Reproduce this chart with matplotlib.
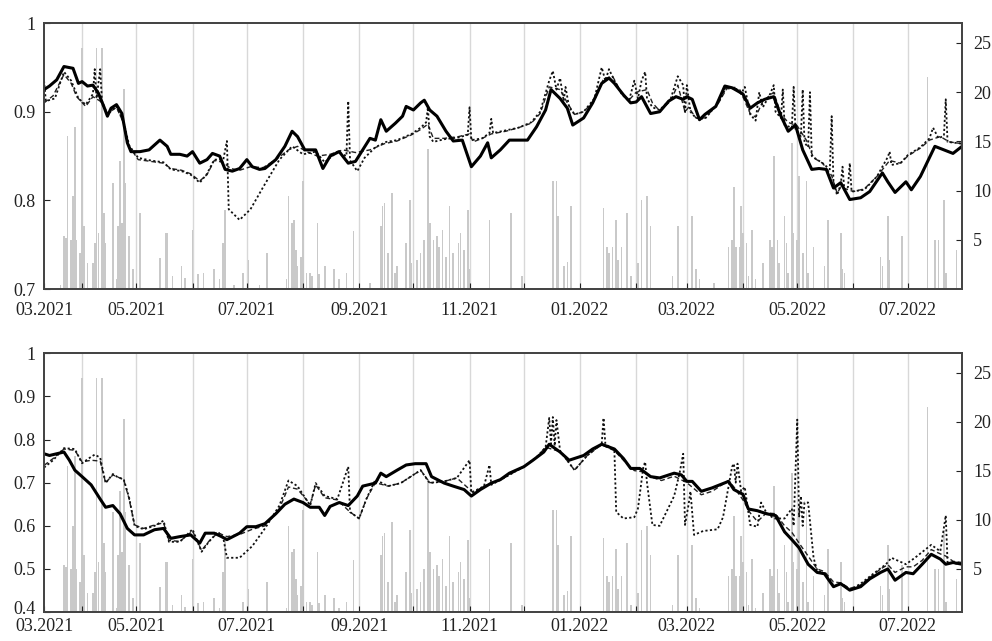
import matplotlib
matplotlib.use("Agg")
import matplotlib.pyplot as plt
import matplotlib.transforms as mtransforms
import pandas as pd

plt.rcParams['font.family'] = ['Liberation Serif', 'DejaVu Serif']

# --- top panel lines ---
top_solid_dates = ["2021-03-11", "2021-03-14", "2021-03-18", "2021-03-22", "2021-03-27", "2021-03-30", "2021-04-01",
    "2021-04-04", "2021-04-07", "2021-04-10", "2021-04-13", "2021-04-15", "2021-04-17", "2021-04-20", "2021-04-23",
    "2021-04-26", "2021-04-28", "2021-05-03", "2021-05-08", "2021-05-14", "2021-05-18", "2021-05-20", "2021-05-25",
    "2021-05-29", "2021-06-01", "2021-06-05", "2021-06-09", "2021-06-12", "2021-06-16", "2021-06-19", "2021-06-23",
    "2021-06-27", "2021-07-01", "2021-07-04", "2021-07-08", "2021-07-11", "2021-07-17", "2021-07-22", "2021-07-26",
    "2021-07-29", "2021-08-02", "2021-08-08", "2021-08-12", "2021-08-16", "2021-08-21", "2021-08-26", "2021-08-30",
    "2021-09-03", "2021-09-07", "2021-09-10", "2021-09-13", "2021-09-16", "2021-09-21", "2021-09-25", "2021-09-27",
    "2021-10-01", "2021-10-05", "2021-10-07", "2021-10-10", "2021-10-14", "2021-10-19", "2021-10-23", "2021-10-28",
    "2021-11-02", "2021-11-07", "2021-11-11", "2021-11-13", "2021-11-18", "2021-11-23", "2021-11-29", "2021-12-03",
    "2021-12-08", "2021-12-13", "2021-12-16", "2021-12-21", "2021-12-25", "2021-12-28", "2022-01-03", "2022-01-08",
    "2022-01-13", "2022-01-17", "2022-01-20", "2022-01-25", "2022-01-29", "2022-02-01", "2022-02-04", "2022-02-09",
    "2022-02-14", "2022-02-19", "2022-02-23", "2022-02-27", "2022-03-01", "2022-03-04", "2022-03-08", "2022-03-11",
    "2022-03-17", "2022-03-22", "2022-03-26", "2022-04-01", "2022-04-05", "2022-04-09", "2022-04-13", "2022-04-18",
    "2022-04-22", "2022-04-26", "2022-04-30", "2022-05-04", "2022-05-09", "2022-05-13", "2022-05-17", "2022-05-21",
    "2022-05-25", "2022-05-30", "2022-06-05", "2022-06-10", "2022-06-17", "2022-06-20", "2022-06-24", "2022-06-30",
    "2022-07-03", "2022-07-08", "2022-07-16", "2022-07-21", "2022-07-26", "2022-07-31"]
top_solid_vals = [0.925, 0.929, 0.936, 0.951, 0.949, 0.932, 0.934,
    0.929, 0.930, 0.921, 0.906, 0.895, 0.904, 0.908, 0.898,
    0.865, 0.855, 0.855, 0.857, 0.868, 0.861, 0.852, 0.852,
    0.850, 0.855, 0.842, 0.846, 0.853, 0.850, 0.835, 0.833,
    0.836, 0.846, 0.838, 0.835, 0.836, 0.846, 0.861, 0.878,
    0.872, 0.857, 0.857, 0.836, 0.850, 0.855, 0.842, 0.844,
    0.857, 0.870, 0.868, 0.891, 0.878, 0.887, 0.895, 0.906,
    0.902, 0.910, 0.913, 0.902, 0.895, 0.878, 0.867, 0.868,
    0.838, 0.850, 0.865, 0.848, 0.857, 0.868, 0.868, 0.868,
    0.883, 0.902, 0.925, 0.915, 0.904, 0.885, 0.893, 0.910,
    0.932, 0.938, 0.932, 0.919, 0.910, 0.911, 0.917, 0.898,
    0.900, 0.912, 0.917, 0.914, 0.917, 0.914, 0.891, 0.897,
    0.906, 0.929, 0.927, 0.920, 0.904, 0.910, 0.914, 0.917,
    0.895, 0.878, 0.885, 0.857, 0.835, 0.836, 0.835, 0.814,
    0.820, 0.801, 0.803, 0.810, 0.831, 0.821, 0.809, 0.821,
    0.812, 0.827, 0.861, 0.857, 0.853, 0.861]

top_dash_dates = ["2021-03-11", "2021-03-16", "2021-03-22", "2021-03-26", "2021-03-29", "2021-04-03", "2021-04-07",
    "2021-04-11", "2021-04-15", "2021-04-20", "2021-04-24", "2021-04-27", "2021-05-02", "2021-05-09", "2021-05-16",
    "2021-05-20", "2021-05-26", "2021-05-31", "2021-06-05", "2021-06-09", "2021-06-13", "2021-06-18", "2021-06-22",
    "2021-06-27", "2021-07-03", "2021-07-10", "2021-07-17", "2021-07-24", "2021-07-29", "2021-08-03", "2021-08-09",
    "2021-08-16", "2021-08-23", "2021-08-30", "2021-09-07", "2021-09-15", "2021-09-22", "2021-09-30", "2021-10-05",
    "2021-10-09", "2021-10-12", "2021-10-18", "2021-10-26", "2021-11-01", "2021-11-03", "2021-11-08", "2021-11-13",
    "2021-11-21", "2021-11-28", "2021-12-05", "2021-12-10", "2021-12-15", "2021-12-21", "2021-12-25", "2021-12-29",
    "2022-01-03", "2022-01-09", "2022-01-14", "2022-01-19", "2022-01-24", "2022-01-28", "2022-02-01", "2022-02-07",
    "2022-02-10", "2022-02-14", "2022-02-20", "2022-02-24", "2022-02-28", "2022-03-02", "2022-03-06", "2022-03-11",
    "2022-03-18", "2022-03-23", "2022-03-30", "2022-04-05", "2022-04-08", "2022-04-12", "2022-04-18", "2022-04-22",
    "2022-04-26", "2022-05-01", "2022-05-06", "2022-05-10", "2022-05-15", "2022-05-20", "2022-05-23", "2022-05-25",
    "2022-06-01", "2022-06-07", "2022-06-14", "2022-06-21", "2022-06-27", "2022-07-01", "2022-07-08", "2022-07-13",
    "2022-07-19", "2022-07-24", "2022-07-31"]
top_dash_vals = [0.910, 0.918, 0.942, 0.932, 0.917, 0.906, 0.917,
    0.912, 0.898, 0.905, 0.887, 0.861, 0.846, 0.844, 0.842,
    0.836, 0.834, 0.830, 0.822, 0.829, 0.845, 0.843, 0.836,
    0.834, 0.838, 0.837, 0.846, 0.857, 0.861, 0.855, 0.850,
    0.852, 0.857, 0.854, 0.857, 0.864, 0.867, 0.874, 0.880,
    0.886, 0.870, 0.870, 0.872, 0.875, 0.866, 0.870, 0.875,
    0.878, 0.882, 0.887, 0.898, 0.928, 0.925, 0.910, 0.897,
    0.900, 0.913, 0.937, 0.940, 0.921, 0.913, 0.922, 0.925,
    0.910, 0.901, 0.912, 0.930, 0.900, 0.905, 0.893, 0.893,
    0.908, 0.926, 0.926, 0.898, 0.894, 0.912, 0.922, 0.897,
    0.888, 0.884, 0.868, 0.848, 0.842, 0.828, 0.808, 0.815,
    0.810, 0.813, 0.827, 0.845, 0.842, 0.850, 0.859, 0.868,
    0.872, 0.866, 0.864]

top_dot_dates = ["2021-03-11", "2021-03-12", "2021-03-17", "2021-03-22", "2021-03-26", "2021-03-30", "2021-04-03",
    "2021-04-07", "2021-04-08", "2021-04-09", "2021-04-11", "2021-04-12", "2021-04-15", "2021-04-20", "2021-04-24",
    "2021-04-27", "2021-05-02", "2021-05-09", "2021-05-16", "2021-05-20", "2021-05-26", "2021-05-31", "2021-06-05",
    "2021-06-09", "2021-06-13", "2021-06-18", "2021-06-20", "2021-06-21", "2021-06-27", "2021-07-03", "2021-07-10",
    "2021-07-19", "2021-07-26", "2021-08-01", "2021-08-08", "2021-08-13", "2021-08-20", "2021-08-25", "2021-08-26",
    "2021-08-27", "2021-08-31", "2021-09-04", "2021-09-10", "2021-09-16", "2021-09-22", "2021-09-30", "2021-10-05",
    "2021-10-08", "2021-10-09", "2021-10-10", "2021-10-12", "2021-10-18", "2021-10-26", "2021-10-31", "2021-11-01",
    "2021-11-02", "2021-11-08", "2021-11-12", "2021-11-13", "2021-11-14", "2021-11-21", "2021-11-28", "2021-12-05",
    "2021-12-10", "2021-12-15", "2021-12-17", "2021-12-19", "2021-12-21", "2021-12-23", "2021-12-24", "2021-12-26",
    "2021-12-29", "2022-01-03", "2022-01-09", "2022-01-13", "2022-01-15", "2022-01-17", "2022-01-20", "2022-01-24",
    "2022-01-28", "2022-01-31", "2022-02-02", "2022-02-04", "2022-02-06", "2022-02-07", "2022-02-10", "2022-02-14",
    "2022-02-20", "2022-02-24", "2022-02-27", "2022-02-28", "2022-03-01", "2022-03-03", "2022-03-06", "2022-03-11",
    "2022-03-18", "2022-03-23", "2022-03-28", "2022-03-31", "2022-04-02", "2022-04-05", "2022-04-08", "2022-04-10",
    "2022-04-12", "2022-04-16", "2022-04-18", "2022-04-19", "2022-04-22", "2022-04-23", "2022-04-24", "2022-04-28",
    "2022-04-29", "2022-04-30", "2022-05-03", "2022-05-04", "2022-05-05", "2022-05-07", "2022-05-08", "2022-05-09",
    "2022-05-15", "2022-05-19", "2022-05-20", "2022-05-21", "2022-05-23", "2022-05-25", "2022-05-26", "2022-05-27",
    "2022-05-29", "2022-05-30", "2022-05-31", "2022-06-07", "2022-06-14", "2022-06-20", "2022-06-21", "2022-06-22",
    "2022-06-27", "2022-07-01", "2022-07-08", "2022-07-13", "2022-07-15", "2022-07-18", "2022-07-21", "2022-07-22",
    "2022-07-23", "2022-07-31"]
top_dot_vals = [0.935, 0.912, 0.915, 0.945, 0.935, 0.915, 0.908,
    0.920, 0.948, 0.915, 0.948, 0.912, 0.897, 0.906, 0.888,
    0.862, 0.848, 0.845, 0.843, 0.835, 0.833, 0.829, 0.820,
    0.830, 0.846, 0.846, 0.867, 0.790, 0.778, 0.790, 0.815,
    0.846, 0.861, 0.852, 0.855, 0.843, 0.855, 0.850, 0.912,
    0.845, 0.833, 0.848, 0.860, 0.866, 0.868, 0.875, 0.882,
    0.888, 0.905, 0.872, 0.866, 0.869, 0.871, 0.874, 0.905,
    0.868, 0.870, 0.876, 0.892, 0.876, 0.879, 0.882, 0.888,
    0.900, 0.935, 0.946, 0.925, 0.938, 0.912, 0.928, 0.905,
    0.897, 0.900, 0.915, 0.950, 0.935, 0.948, 0.935, 0.920,
    0.912, 0.935, 0.915, 0.935, 0.945, 0.915, 0.905, 0.902,
    0.914, 0.940, 0.930, 0.898, 0.930, 0.900, 0.893, 0.892,
    0.909, 0.928, 0.927, 0.920, 0.928, 0.897, 0.890, 0.922,
    0.905, 0.920, 0.930, 0.900, 0.893, 0.925, 0.885, 0.882,
    0.928, 0.880, 0.872, 0.925, 0.865, 0.860, 0.922, 0.850,
    0.842, 0.835, 0.895, 0.820, 0.806, 0.818, 0.838, 0.812,
    0.815, 0.842, 0.810, 0.812, 0.827, 0.849, 0.855, 0.840,
    0.842, 0.851, 0.860, 0.870, 0.882, 0.870, 0.873, 0.914,
    0.866, 0.864]

# --- bottom panel lines ---
bot_solid_dates = ["2021-03-11", "2021-03-14", "2021-03-18", "2021-03-22", "2021-03-25", "2021-03-28", "2021-04-01",
    "2021-04-06", "2021-04-11", "2021-04-14", "2021-04-18", "2021-04-22", "2021-04-26", "2021-04-30", "2021-05-05",
    "2021-05-11", "2021-05-16", "2021-05-20", "2021-05-25", "2021-05-31", "2021-06-05", "2021-06-08", "2021-06-13",
    "2021-06-17", "2021-06-20", "2021-06-27", "2021-07-01", "2021-07-06", "2021-07-11", "2021-07-17", "2021-07-22",
    "2021-07-27", "2021-08-01", "2021-08-05", "2021-08-10", "2021-08-13", "2021-08-16", "2021-08-21", "2021-08-26",
    "2021-08-31", "2021-09-03", "2021-09-10", "2021-09-13", "2021-09-16", "2021-09-22", "2021-09-27", "2021-10-02",
    "2021-10-08", "2021-10-11", "2021-10-18", "2021-10-23", "2021-10-29", "2021-11-02", "2021-11-07", "2021-11-13",
    "2021-11-18", "2021-11-23", "2021-12-01", "2021-12-06", "2021-12-12", "2021-12-15", "2021-12-21", "2021-12-26",
    "2022-01-03", "2022-01-08", "2022-01-13", "2022-01-20", "2022-01-25", "2022-01-29", "2022-02-03", "2022-02-09",
    "2022-02-14", "2022-02-22", "2022-02-26", "2022-03-01", "2022-03-04", "2022-03-09", "2022-03-15", "2022-03-24",
    "2022-03-27", "2022-04-01", "2022-04-04", "2022-04-09", "2022-04-14", "2022-04-19", "2022-04-24", "2022-04-28",
    "2022-05-02", "2022-05-07", "2022-05-12", "2022-05-16", "2022-05-21", "2022-05-25", "2022-05-30", "2022-06-05",
    "2022-06-10", "2022-06-16", "2022-06-20", "2022-06-24", "2022-06-30", "2022-07-04", "2022-07-09", "2022-07-14",
    "2022-07-19", "2022-07-22", "2022-07-26", "2022-07-31"]
bot_solid_vals = [0.767, 0.763, 0.767, 0.771, 0.752, 0.729, 0.714,
    0.695, 0.662, 0.643, 0.647, 0.628, 0.594, 0.579, 0.579,
    0.591, 0.594, 0.571, 0.575, 0.579, 0.560, 0.583, 0.583,
    0.575, 0.568, 0.583, 0.598, 0.598, 0.605, 0.628, 0.650,
    0.662, 0.654, 0.643, 0.643, 0.624, 0.645, 0.654, 0.647,
    0.669, 0.692, 0.699, 0.722, 0.714, 0.729, 0.741, 0.744,
    0.744, 0.714, 0.699, 0.692, 0.684, 0.669, 0.684, 0.699,
    0.707, 0.722, 0.737, 0.752, 0.771, 0.789, 0.771, 0.752,
    0.763, 0.778, 0.789, 0.778, 0.756, 0.733, 0.733, 0.714,
    0.711, 0.722, 0.718, 0.703, 0.703, 0.680, 0.688, 0.703,
    0.684, 0.673, 0.639, 0.635, 0.628, 0.624, 0.586, 0.568,
    0.549, 0.511, 0.492, 0.489, 0.459, 0.466, 0.451, 0.459,
    0.477, 0.492, 0.500, 0.474, 0.492, 0.489, 0.511, 0.534,
    0.523, 0.511, 0.515, 0.511]

bot_dash_dates = ["2021-03-11", "2021-03-16", "2021-03-22", "2021-03-28", "2021-04-01", "2021-04-06", "2021-04-11",
    "2021-04-14", "2021-04-18", "2021-04-24", "2021-04-27", "2021-04-30", "2021-05-05", "2021-05-11", "2021-05-16",
    "2021-05-19", "2021-05-25", "2021-06-01", "2021-06-06", "2021-06-10", "2021-06-15", "2021-06-20", "2021-06-27",
    "2021-07-04", "2021-07-11", "2021-07-19", "2021-07-24", "2021-07-29", "2021-08-05", "2021-08-08", "2021-08-13",
    "2021-08-20", "2021-08-27", "2021-09-01", "2021-09-05", "2021-09-10", "2021-09-17", "2021-09-24", "2021-10-05",
    "2021-10-10", "2021-10-18", "2021-10-25", "2021-11-03", "2021-11-09", "2021-11-20", "2021-12-01", "2021-12-08",
    "2021-12-13", "2021-12-21", "2021-12-29", "2022-01-05", "2022-01-13", "2022-01-20", "2022-01-25", "2022-01-31",
    "2022-02-05", "2022-02-10", "2022-02-15", "2022-02-22", "2022-03-01", "2022-03-09", "2022-03-15", "2022-03-24",
    "2022-03-27", "2022-04-01", "2022-04-05", "2022-04-09", "2022-04-14", "2022-04-19", "2022-04-24", "2022-04-28",
    "2022-05-02", "2022-05-07", "2022-05-12", "2022-05-16", "2022-05-21", "2022-05-25", "2022-05-30", "2022-06-05",
    "2022-06-10", "2022-06-16", "2022-06-20", "2022-06-24", "2022-06-30", "2022-07-04", "2022-07-09", "2022-07-14",
    "2022-07-19", "2022-07-22", "2022-07-26", "2022-07-31"]
bot_dash_vals = [0.740, 0.756, 0.778, 0.775, 0.748, 0.752, 0.750,
    0.700, 0.718, 0.707, 0.662, 0.602, 0.594, 0.602, 0.607,
    0.566, 0.564, 0.588, 0.543, 0.564, 0.584, 0.575, 0.580,
    0.592, 0.600, 0.640, 0.690, 0.685, 0.650, 0.695, 0.665,
    0.660, 0.632, 0.617, 0.662, 0.700, 0.692, 0.699, 0.729,
    0.700, 0.703, 0.711, 0.677, 0.692, 0.711, 0.737, 0.759,
    0.782, 0.772, 0.729, 0.763, 0.788, 0.774, 0.752, 0.728,
    0.725, 0.712, 0.705, 0.715, 0.700, 0.672, 0.680, 0.705,
    0.690, 0.660, 0.630, 0.610, 0.630, 0.628, 0.600, 0.585,
    0.560, 0.530, 0.500, 0.494, 0.470, 0.468, 0.455, 0.463,
    0.480, 0.500, 0.510, 0.492, 0.505, 0.505, 0.520, 0.545,
    0.535, 0.530, 0.518, 0.515]

bot_dot_dates = ["2021-03-11", "2021-03-16", "2021-03-22", "2021-03-28", "2021-04-01", "2021-04-06", "2021-04-08",
    "2021-04-11", "2021-04-14", "2021-04-18", "2021-04-21", "2021-04-24", "2021-04-27", "2021-04-30", "2021-05-05",
    "2021-05-11", "2021-05-16", "2021-05-19", "2021-05-25", "2021-06-01", "2021-06-06", "2021-06-10", "2021-06-15",
    "2021-06-18", "2021-06-20", "2021-06-27", "2021-07-04", "2021-07-11", "2021-07-19", "2021-07-24", "2021-07-29",
    "2021-08-05", "2021-08-08", "2021-08-13", "2021-08-20", "2021-08-26", "2021-08-27", "2021-09-01", "2021-09-05",
    "2021-09-10", "2021-09-17", "2021-09-24", "2021-10-05", "2021-10-10", "2021-10-18", "2021-10-25", "2021-11-01",
    "2021-11-02", "2021-11-09", "2021-11-12", "2021-11-13", "2021-11-20", "2021-12-01", "2021-12-08", "2021-12-13",
    "2021-12-15", "2021-12-16", "2021-12-17", "2021-12-18", "2021-12-19", "2021-12-21", "2021-12-29", "2022-01-05",
    "2022-01-13", "2022-01-14", "2022-01-15", "2022-01-20", "2022-01-21", "2022-01-25", "2022-01-31", "2022-02-02",
    "2022-02-05", "2022-02-06", "2022-02-07", "2022-02-10", "2022-02-14", "2022-02-22", "2022-02-25", "2022-02-27",
    "2022-02-28", "2022-03-02", "2022-03-03", "2022-03-05", "2022-03-10", "2022-03-18", "2022-03-21", "2022-03-26",
    "2022-03-27", "2022-03-28", "2022-03-29", "2022-03-31", "2022-04-02", "2022-04-05", "2022-04-09", "2022-04-11",
    "2022-04-14", "2022-04-18", "2022-04-24", "2022-04-28", "2022-04-29", "2022-05-01", "2022-05-02", "2022-05-03",
    "2022-05-04", "2022-05-05", "2022-05-07", "2022-05-10", "2022-05-12", "2022-05-16", "2022-05-20", "2022-05-21",
    "2022-05-25", "2022-05-30", "2022-06-05", "2022-06-12", "2022-06-19", "2022-06-22", "2022-06-30", "2022-07-05",
    "2022-07-14", "2022-07-19", "2022-07-22", "2022-07-23", "2022-07-31"]
bot_dot_vals = [0.735, 0.752, 0.780, 0.778, 0.745, 0.760, 0.765,
    0.758, 0.699, 0.720, 0.712, 0.708, 0.665, 0.600, 0.592,
    0.600, 0.612, 0.563, 0.563, 0.592, 0.540, 0.563, 0.586,
    0.572, 0.526, 0.526, 0.553, 0.594, 0.647, 0.705, 0.692,
    0.647, 0.699, 0.669, 0.662, 0.737, 0.632, 0.617, 0.662,
    0.707, 0.692, 0.699, 0.729, 0.699, 0.703, 0.711, 0.752,
    0.677, 0.692, 0.741, 0.695, 0.711, 0.737, 0.759, 0.782,
    0.850, 0.790, 0.852, 0.785, 0.845, 0.774, 0.729, 0.763,
    0.790, 0.850, 0.790, 0.774, 0.632, 0.617, 0.620, 0.640,
    0.737, 0.748, 0.700, 0.602, 0.600, 0.669, 0.722, 0.767,
    0.602, 0.650, 0.680, 0.579, 0.588, 0.592, 0.620, 0.737,
    0.744, 0.700, 0.744, 0.680, 0.690, 0.602, 0.598, 0.654,
    0.630, 0.617, 0.617, 0.640, 0.600, 0.846, 0.620, 0.669,
    0.600, 0.654, 0.654, 0.526, 0.496, 0.490, 0.470, 0.459,
    0.466, 0.451, 0.466, 0.489, 0.511, 0.526, 0.511, 0.526,
    0.556, 0.541, 0.624, 0.515, 0.511]

# --- gray bars (right axis) ---
bar_dates = ["2021-03-11", "2021-03-20", "2021-03-22", "2021-03-23", "2021-03-24", "2021-03-26", "2021-03-27",
    "2021-03-28", "2021-03-29", "2021-03-31", "2021-04-01", "2021-04-02", "2021-04-04", "2021-04-07", "2021-04-08",
    "2021-04-09", "2021-04-10", "2021-04-12", "2021-04-13", "2021-04-14", "2021-04-18", "2021-04-20", "2021-04-21",
    "2021-04-22", "2021-04-23", "2021-04-24", "2021-04-25", "2021-04-27", "2021-04-29", "2021-05-03", "2021-05-14",
    "2021-05-17", "2021-05-18", "2021-05-21", "2021-05-26", "2021-05-28", "2021-06-01", "2021-06-04", "2021-06-07",
    "2021-06-13", "2021-06-16", "2021-06-18", "2021-06-19", "2021-06-24", "2021-06-29", "2021-07-02", "2021-07-08",
    "2021-07-12", "2021-07-23", "2021-07-24", "2021-07-26", "2021-07-27", "2021-07-28", "2021-07-29", "2021-07-31",
    "2021-08-01", "2021-08-03", "2021-08-05", "2021-08-06", "2021-08-09", "2021-08-10", "2021-08-13", "2021-08-18",
    "2021-08-21", "2021-08-25", "2021-08-29", "2021-09-07", "2021-09-13", "2021-09-14", "2021-09-15", "2021-09-17",
    "2021-09-19", "2021-09-21", "2021-09-22", "2021-09-27", "2021-09-29", "2021-09-30", "2021-10-03", "2021-10-05",
    "2021-10-07", "2021-10-09", "2021-10-10", "2021-10-12", "2021-10-14", "2021-10-15", "2021-10-17", "2021-10-19",
    "2021-10-21", "2021-10-23", "2021-10-26", "2021-10-27", "2021-10-29", "2021-10-31", "2021-11-01", "2021-11-12",
    "2021-11-24", "2021-11-30", "2021-12-17", "2021-12-19", "2021-12-20", "2021-12-23", "2021-12-25", "2021-12-27",
    "2022-01-14", "2022-01-16", "2022-01-17", "2022-01-19", "2022-01-21", "2022-01-22", "2022-01-24", "2022-01-27",
    "2022-01-29", "2022-02-02", "2022-02-04", "2022-02-07", "2022-02-09", "2022-02-21", "2022-02-24", "2022-03-04",
    "2022-03-06", "2022-03-08", "2022-03-16", "2022-03-24", "2022-03-26", "2022-03-27", "2022-03-28", "2022-03-30",
    "2022-03-31", "2022-04-01", "2022-04-03", "2022-04-04", "2022-04-06", "2022-04-08", "2022-04-12", "2022-04-16",
    "2022-04-17", "2022-04-18", "2022-04-20", "2022-04-21", "2022-04-24", "2022-04-25", "2022-04-26", "2022-04-28",
    "2022-04-29", "2022-05-01", "2022-05-02", "2022-05-04", "2022-05-06", "2022-05-07", "2022-05-10", "2022-05-16",
    "2022-05-18", "2022-05-25", "2022-05-26", "2022-05-27", "2022-06-16", "2022-06-17", "2022-06-20", "2022-06-21",
    "2022-06-28", "2022-07-12", "2022-07-16", "2022-07-18", "2022-07-21", "2022-07-22", "2022-07-28"]
bar_vals = [1.0, 0.4, 5.4, 5.2, 15.5, 5.0, 9.4,
    16.5, 5.0, 3.7, 24.5, 6.4, 2.6, 2.6, 4.7,
    24.5, 5.7, 24.5, 7.7, 4.7, 10.8, 1.0, 6.4,
    13.0, 6.7, 20.3, 10.8, 5.4, 2.0, 7.7, 3.2,
    5.7, 5.7, 1.3, 2.3, 1.1, 6.0, 1.5, 1.6,
    2.0, 1.0, 4.7, 8.0, 0.4, 1.6, 3.0, 0.4,
    3.7, 1.0, 9.4, 6.7, 7.0, 4.0, 2.3, 3.3,
    11.0, 1.6, 1.6, 1.3, 6.7, 1.5, 2.3, 2.0,
    1.0, 1.6, 5.9, 0.6, 6.4, 8.4, 8.7, 3.7,
    9.8, 1.6, 2.3, 4.7, 9.0, 2.6, 3.0, 3.7,
    5.0, 14.2, 6.7, 5.0, 5.4, 4.3, 6.0, 3.3,
    8.4, 3.7, 4.7, 5.7, 4.0, 8.0, 2.0, 7.0,
    7.7, 1.3, 11.0, 11.0, 7.4, 2.3, 2.8, 8.4,
    8.2, 4.3, 3.7, 4.3, 7.0, 3.0, 4.3, 7.7,
    1.3, 2.6, 9.0, 9.4, 6.4, 1.3, 6.4, 7.4,
    2.0, 1.0, 0.6, 4.3, 5.0, 10.4, 4.3, 4.3,
    8.4, 5.7, 4.7, 1.3, 6.0, 1.0, 2.6, 5.0,
    4.3, 13.5, 5.0, 2.6, 7.4, 4.7, 1.6, 14.8,
    5.7, 5.0, 11.5, 3.7, 11.0, 1.6, 4.3, 2.3,
    7.0, 5.7, 2.0, 1.6, 3.3, 2.3, 7.4, 3.0,
    5.4, 21.5, 5.0, 5.0, 9.0, 1.6, 4.0]

x_start, x_end = pd.Timestamp("2021-03-11"), pd.Timestamp("2022-07-31")
month_starts = pd.date_range("2021-04-01", "2022-07-01", freq="MS")

fig = plt.figure(figsize=(9.92, 6.41), dpi=100)

panels = [
    dict(rect=[0.0444, 0.549, 0.9254, 0.415], ylim=(0.7, 1.0), yticks=[0.7, 0.8, 0.9, 1.0],
         ylabels=["0.7", "0.8", "0.9", "1"], r_ylim=(0, 27), xpad=9,
         lines=[(top_dash_dates, top_dash_vals), (top_dot_dates, top_dot_vals), (top_solid_dates, top_solid_vals)]),
    dict(rect=[0.0444, 0.045, 0.9254, 0.404], ylim=(0.4, 1.0), yticks=[0.4, 0.5, 0.6, 0.7, 0.8, 0.9, 1.0],
         ylabels=["0.4", "0.5", "0.6", "0.7", "0.8", "0.9", "1"], r_ylim=(0.6, 27), xpad=4,
         lines=[(bot_dash_dates, bot_dash_vals), (bot_dot_dates, bot_dot_vals), (bot_solid_dates, bot_solid_vals)]),
]

styles = [dict(color="#222222", lw=1.0, ls=(0, (3.5, 2.0))),
          dict(color="#111111", lw=1.3, ls=(0, (1.2, 1.3))),
          dict(color="black", lw=2.2, ls="-")]

tick_pos = [x_start] + list(month_starts)
tick_lab = [d.strftime("%m.%Y") if d.month % 2 == 1 else "" for d in tick_pos]

for i, p in enumerate(panels):
    ax = fig.add_axes(p["rect"])
    ax2 = ax.twinx()

    # month grid and bars on the right-hand axis
    for m in month_starts:
        ax2.axvline(m, color="#d8d8d8", lw=1.0, zorder=0)
    ax2.bar(pd.to_datetime(bar_dates), bar_vals, width=0.9, color="#c9c9c9", linewidth=0, zorder=1)
    ax2.set_ylim(*p["r_ylim"])
    ax2.set_yticks([5, 10, 15, 20, 25])
    ax2.set_yticklabels(["5", "10", "15", "20", "25"])
    ax2.tick_params(axis="y", direction="in", length=4, pad=8, labelsize=13, colors="#222222")

    for (d, v), st in zip(p["lines"], styles):
        ax.plot(pd.to_datetime(d), v, color=st["color"], lw=st["lw"], ls=st["ls"])

    ax.set_zorder(ax2.get_zorder() + 1)
    ax.patch.set_visible(False)
    ax.set_xlim(x_start, x_end)
    ax.set_ylim(*p["ylim"])
    ax.set_yticks(p["yticks"])
    ax.set_yticklabels(p["ylabels"])
    ax.set_xticks(tick_pos)
    ax.set_xticklabels(tick_lab)
    ax.tick_params(axis="both", direction="in", length=4, labelsize=13, colors="#222222")
    ax.tick_params(axis="x", pad=p["xpad"])
    ax.tick_params(axis="y", pad=6)
    if i == 1:
        # lift the lowest left label a little, as in the original
        lab = ax.get_yticklabels()[0]
        lab.set_transform(lab.get_transform() + mtransforms.ScaledTranslation(0, 3 / 72, fig.dpi_scale_trans))
    for a in (ax, ax2):
        for s in a.spines.values():
            s.set_color("#444444")
            s.set_linewidth(1.3)

fig.savefig("out.png", dpi=100)
